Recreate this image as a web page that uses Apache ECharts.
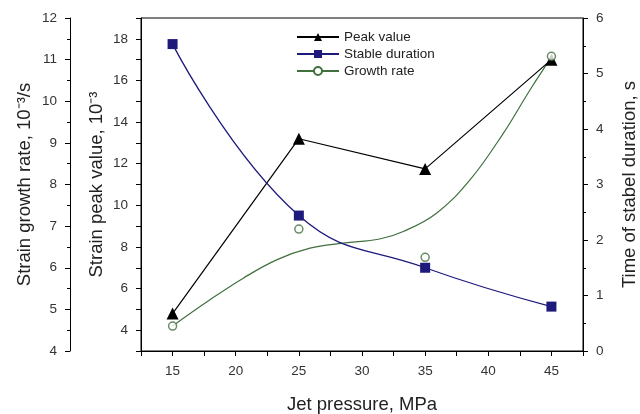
<!DOCTYPE html>
<html>
<head>
<meta charset="utf-8">
<script src="https://cdn.jsdelivr.net/npm/echarts@6/dist/echarts.min.js"></script>
<style>
html,body{margin:0;padding:0;background:#fff;}
#chart{width:640px;height:414px;}
</style>
</head>
<body>
<div id="chart"></div>
<script>
// Data
var pressure = [15, 25, 35, 45];
var peakValue = [4.8, 13.2, 11.75, 17.0];
var stableDuration = [5.53, 2.44, 1.50, 0.80];
var growthRate = [4.6, 6.93, 6.25, 11.08];
// fitted growth-rate curve
var growthFitX = [15, 17.96, 20.6, 23.24, 25.88, 28.52, 31.4, 33.27, 35.9, 38.55, 41.19, 43.3, 45];
var growthFitY = [4.6, 5.23, 5.75, 6.19, 6.47, 6.59, 6.69, 6.87, 7.31, 8.11, 9.23, 10.27, 11.06];

var xLabels = [15, 20, 25, 30, 35, 40, 45];
var peakLabels = [4, 6, 8, 10, 12, 14, 16, 18];

function pairs(xs, ys) { return xs.map(function (x, i) { return [x, ys[i]]; }); }

var FONT = 'Liberation Sans, Arial, sans-serif';
var navy = '#1e1a7c';
var green = '#41703f';
var TICKFS = 13.5;
var NAMEFS = 18.5;

var chart = echarts.init(document.getElementById('chart'), null, {renderer: 'canvas'});
var axisCommon = {
  axisLine: {show: true, lineStyle: {color: '#000', width: 1}},
  axisTick: {show: true, length: 5, lineStyle: {color: '#000'}},
  splitLine: {show: false},
  nameMoveOverlap: false,
  nameTextStyle: {fontFamily: FONT, fontSize: NAMEFS, color: '#222'}
};
chart.setOption({
  animation: false,
  grid: {left: 141, right: 57, top: 18, bottom: 63, show: true, borderColor: '#000', borderWidth: 1,
         containLabel: false, outerBoundsMode: 'none'},
  legend: {
    data: ['Peak value', 'Stable duration', 'Growth rate'],
    orient: 'vertical', left: 291, top: 25,
    itemWidth: 42, itemHeight: 10, itemGap: 3,
    textStyle: {fontFamily: FONT, fontSize: 13.5, color: '#222'}
  },
  xAxis: Object.assign({}, axisCommon, {
    type: 'value', min: 12.5, max: 47.5, interval: 2.5,
    name: 'Jet pressure, MPa', nameLocation: 'middle', nameGap: 44,
    axisLabel: {fontFamily: FONT, fontSize: TICKFS, color: '#333', margin: 13,
      formatter: function (v) { return xLabels.indexOf(v) >= 0 ? String(v) : ''; }}
  }),
  yAxis: [
    Object.assign({}, axisCommon, {
      type: 'value', position: 'left', min: 3, max: 19, interval: 1,
      name: 'Strain peak value, 10\u207B\u00B3', nameLocation: 'middle', nameGap: 35,
      axisLabel: {fontFamily: FONT, fontSize: TICKFS, color: '#333', margin: 13,
        formatter: function (v) { return peakLabels.indexOf(v) >= 0 ? String(v) : ''; }}
    }),
    Object.assign({}, axisCommon, {
      type: 'value', position: 'right', min: 0, max: 6, interval: 1,
      name: 'Time of stabel duration, s', nameLocation: 'middle', nameGap: 37,
      minorTick: {show: true, splitNumber: 2, length: 3, lineStyle: {color: '#000'}},
      axisLabel: {fontFamily: FONT, fontSize: TICKFS, color: '#333', margin: 13}
    }),
    Object.assign({}, axisCommon, {
      type: 'value', position: 'left', offset: 71, min: 4, max: 12, interval: 1,
      name: 'Strain growth rate, 10\u207B\u00B3/s', nameLocation: 'middle', nameGap: 36,
      minorTick: {show: true, splitNumber: 2, length: 3, lineStyle: {color: '#000'}},
      axisLabel: {fontFamily: FONT, fontSize: TICKFS, color: '#333', margin: 13}
    })
  ],
  series: [
    {
      name: 'Peak value', type: 'line', yAxisIndex: 0,
      data: pairs(pressure, peakValue),
      symbol: 'triangle', symbolSize: 12,
      lineStyle: {color: '#000', width: 1.2},
      itemStyle: {color: '#000'}, z: 3
    },
    {
      name: 'Stable duration', type: 'line', yAxisIndex: 1, smooth: 0.45,
      data: pairs(pressure, stableDuration),
      symbol: 'rect', symbolSize: 10,
      lineStyle: {color: navy, width: 1.3},
      itemStyle: {color: navy}, z: 3
    },
    {
      name: 'Growth rate', type: 'line', yAxisIndex: 2, smooth: 0.4,
      data: pairs(growthFitX, growthFitY),
      symbol: 'emptyCircle', symbolSize: 8, showSymbol: false,
      lineStyle: {color: green, width: 1.2},
      itemStyle: {color: green, borderColor: green, borderWidth: 1.5}, z: 2
    },
    {
      name: 'Growth rate points', type: 'scatter', yAxisIndex: 2,
      data: pairs(pressure, growthRate),
      symbol: 'circle', symbolSize: 8,
      itemStyle: {color: '#fff', borderColor: green, borderWidth: 1.5}, z: 4
    }
  ]
});
</script>
</body>
</html>
